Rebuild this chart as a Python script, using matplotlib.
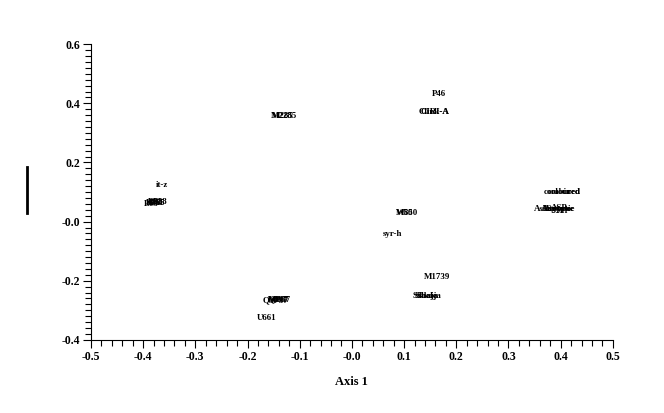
import matplotlib
matplotlib.use('Agg')
import matplotlib.pyplot as plt
from matplotlib.lines import Line2D
from matplotlib.ticker import MultipleLocator, FixedLocator

# labels and their ordination scores (axis 1, axis 2)
labels = ['it-z', 'B63', 'B21', 'PA5', 'B88', 'BS1', 'B76',
          'M285', 'M2285',
          'P46', 'Clink-A', 'CIRI-A',
          'combined', 'coloured',
          'Asian-type', 'AS-type', 'Aegyptie', 'Atype', 'ASB',
          'M50', 'W850',
          'syr-h',
          'M1739',
          'Sabaja', 'Shkoja', 'Shale',
          'Q9P37', 'M867', 'Q897', 'MB87',
          'U661']
axis1 = [-0.364, -0.384, -0.377, -0.372, -0.368, -0.375, -0.380,
         -0.133, -0.131,
         0.167, 0.157, 0.160,
         0.402, 0.406,
         0.387, 0.392, 0.396, 0.390, 0.398,
         0.101, 0.105,
         0.077,
         0.163,
         0.142, 0.146, 0.144,
         -0.146, -0.140, -0.143, -0.138,
         -0.164]
axis2 = [0.124, 0.060, 0.066, 0.064, 0.066, 0.062, 0.064,
         0.357, 0.357,
         0.431, 0.370, 0.370,
         0.100, 0.100,
         0.043, 0.043, 0.043, 0.041, 0.045,
         0.029, 0.029,
         -0.042,
         -0.187,
         -0.251, -0.251, -0.251,
         -0.265, -0.265, -0.263, -0.265,
         -0.326]

xticks = [-0.5, -0.4, -0.3, -0.2, -0.1, 0.0, 0.1, 0.2, 0.3, 0.4, 0.5]
xticklabels = ['-0.5', '-0.4', '-0.3', '-0.2', '-0.1', '-0.0', '0.1', '0.2', '0.3', '0.4', '0.5']
yticks = [-0.4, -0.2, 0.0, 0.2, 0.4, 0.6]
yticklabels = ['-0.4', '-0.2', '-0.0', '0.2', '0.4', '0.6']

plt.rcParams['font.family'] = ['Liberation Serif', 'DejaVu Serif']
plt.rcParams['font.weight'] = 'bold'

fig = plt.figure(figsize=(6.64, 4.13), dpi=100)
ax = fig.add_axes([0.137, 0.177, 0.786, 0.716])

for lab, x, y in zip(labels, axis1, axis2):
    ax.text(x, y, lab, fontsize=6.4, fontweight='bold', ha='center', va='center')

ax.set_xlim(-0.5, 0.5)
ax.set_ylim(-0.4, 0.6)
ax.spines['top'].set_visible(False)
ax.spines['right'].set_visible(False)
ax.xaxis.set_major_locator(FixedLocator(xticks))
ax.set_xticklabels(xticklabels)
ax.yaxis.set_major_locator(FixedLocator(yticks))
ax.set_yticklabels(yticklabels)
ax.xaxis.set_minor_locator(MultipleLocator(0.02))
ax.yaxis.set_minor_locator(MultipleLocator(0.02))
ax.tick_params(which='major', length=6, width=0.8, labelsize=8.5, pad=2)
ax.tick_params(which='minor', length=4, width=0.8)
for t in ax.get_xticklabels() + ax.get_yticklabels():
    t.set_fontweight('bold')

ax.set_xlabel('Axis 1', fontsize=9, fontweight='bold', labelpad=9)

# the vertical bar where the axis-2 title sits
fig.add_artist(Line2D([27 / 664, 27 / 664], [1 - 167 / 413, 1 - 213 / 413],
                      color='black', linewidth=2))

fig.savefig('out.png', dpi=100)
